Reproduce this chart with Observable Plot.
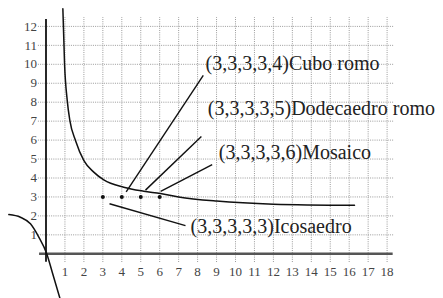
<!DOCTYPE html>
<html>
<head>
<meta charset="utf-8">
<script src="https://cdn.jsdelivr.net/npm/d3@7"></script>
<script src="https://cdn.jsdelivr.net/npm/@observablehq/plot@0.6"></script>
<style>
  html, body { margin: 0; padding: 0; background: #fff; }
</style>
</head>
<body>
<div id="chart"></div>
<script>
// Tick labels
const xTickLabels = [1,2,3,4,5,6,7,8,9,10,11,12,13,14,15,16,17,18];
const yTickLabels = [1,2,3,4,5,6,7,8,9,10,11,12];

// Curve, right branch
const rightX = [0.89, 0.98, 1.12, 1.26, 1.56, 2.0, 2.52, 3.05, 4.1, 5.16, 6.04, 7.0, 9.0, 12.0, 16.28];
const rightY = [12.93, 10.0, 8.1, 7.03, 5.97, 4.92, 4.31, 3.9, 3.51, 3.3, 3.18, 3.0, 2.78, 2.62, 2.56];

// Curve, left branch
const leftX = [-1.96, -1.35, -0.82, -0.38, 0.03, 0.33, 0.75];
const leftY = [2.07, 1.93, 1.58, 0.88, 0.03, -0.97, -2.4];

// Points
const pointX = [3, 4, 5, 6];
const pointY = [3, 3, 3, 3];

// Annotations
const labels = ["(3,3,3,3,4)Cubo romo", "(3,3,3,3,5)Dodecaedro romo", "(3,3,3,3,6)Mosaico", "(3,3,3,3,3)Icosaedro"];
const labelX = [8.42, 8.54, 9.12, 7.63];
const labelY = [10.03, 7.67, 5.33, 1.41];
const leaderX1 = [4.23, 5.25, 6.05, 3.35];
const leaderY1 = [3.27, 3.36, 3.3, 2.64];
const leaderX2 = [8.3, 8.2, 8.77, 7.36];
const leaderY2 = [9.41, 6.19, 4.7, 1.49];

// Extents of grid and axes (data units)
const gridXExtent = [-0.4, 18.4];
const gridYExtent = [-0.46, 12.47];
const axisXExtent = [-0.34, 18.32];
const axisYExtent = [-0.44, 12.36];

const right = rightX.map((x, i) => ({x, y: rightY[i]}));
const left = leftX.map((x, i) => ({x, y: leftY[i]}));
const pts = pointX.map((x, i) => ({x, y: pointY[i]}));
const ann = labels.map((t, i) => ({t, lx: labelX[i], ly: labelY[i], x1: leaderX1[i], y1: leaderY1[i], x2: leaderX2[i], y2: leaderY2[i]}));

const serif = "Liberation Serif";

const chart = Plot.plot({
  width: 443,
  height: 298,
  margin: 0,
  x: {domain: [0, 18], range: [45.5, 386.6], axis: null},
  y: {domain: [0, 12], range: [253.3, 25.9], axis: null},
  marks: [
    Plot.ruleX(xTickLabels, {x: d => d, y1: gridYExtent[0], y2: gridYExtent[1], stroke: "#9a9a9a", strokeWidth: 1, strokeDasharray: "1,1.2"}),
    Plot.ruleY(yTickLabels, {y: d => d, x1: gridXExtent[0], x2: gridXExtent[1], stroke: "#9a9a9a", strokeWidth: 1, strokeDasharray: "1,1.2"}),
    Plot.ruleY([0], {x1: axisXExtent[0], x2: axisXExtent[1], stroke: "#555", strokeWidth: 2.6}),
    Plot.ruleX([0], {y1: axisYExtent[0], y2: axisYExtent[1], stroke: "#111", strokeWidth: 1.8}),
    Plot.line(right, {x: "x", y: "y", curve: "monotone-x", stroke: "#111", strokeWidth: 1.5}),
    Plot.line(left, {x: "x", y: "y", curve: "monotone-x", stroke: "#111", strokeWidth: 1.5}),
    Plot.link(ann, {x1: "x1", y1: "y1", x2: "x2", y2: "y2", stroke: "#111", strokeWidth: 1.4}),
    Plot.dot(pts, {x: "x", y: "y", r: 2, fill: "#111"}),
    Plot.text(ann, {x: "lx", y: "ly", text: "t", textAnchor: "start", fontSize: 20, fontFamily: serif, fill: "#222"}),
    Plot.text(xTickLabels, {x: d => d, y: 0, text: d => String(d), dy: 18, fontSize: 13, fontFamily: serif, fill: "#444"}),
    Plot.text(yTickLabels, {x: 0, y: d => d, text: d => String(d), dx: -9, textAnchor: "end", fontSize: 13, fontFamily: serif, fill: "#444"})
  ]
});
document.getElementById("chart").appendChild(chart);
</script>
</body>
</html>
